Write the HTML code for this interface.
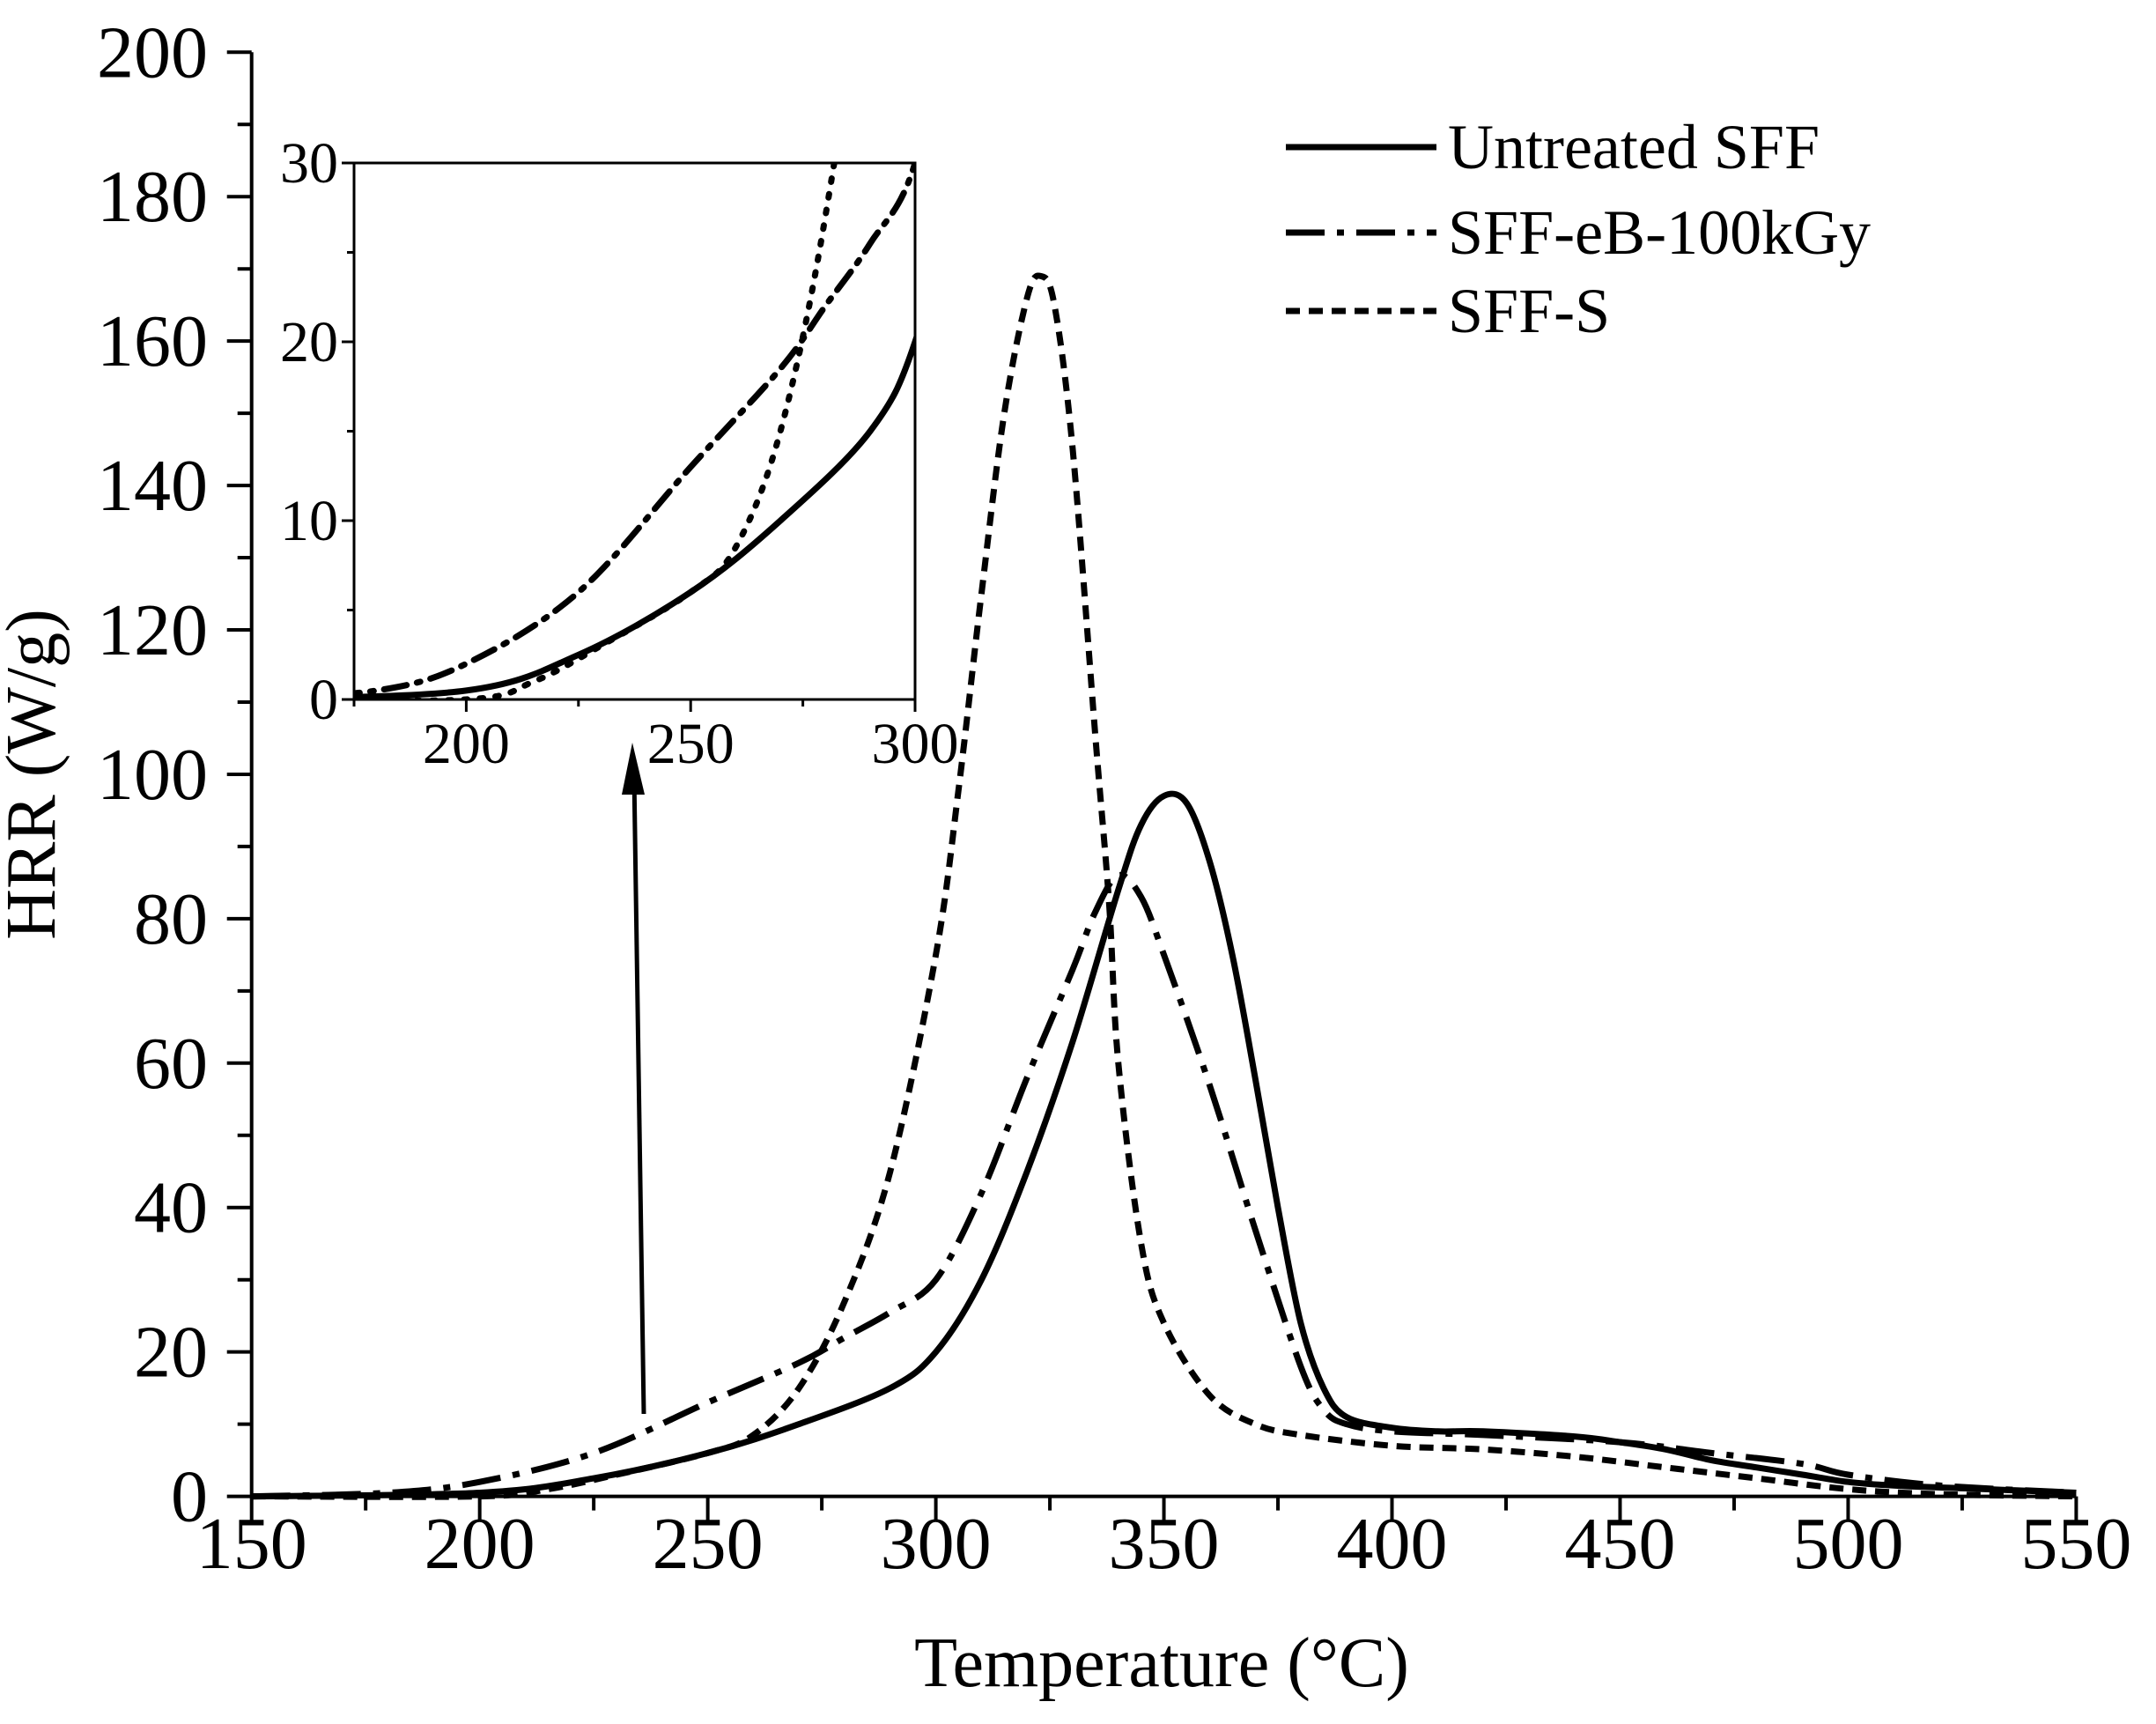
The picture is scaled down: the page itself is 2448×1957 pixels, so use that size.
<!DOCTYPE html>
<html><head><meta charset="utf-8"><style>
html,body{margin:0;padding:0;background:#fff}
svg{display:block}
text{font-family:"Liberation Serif",serif;fill:#000}
</style></head><body>
<svg id="c" width="2448" height="1957" viewBox="0 0 2448 1957">
<defs>
<clipPath id="insetClip"><rect x="402" y="185" width="637" height="609"/></clipPath>
</defs>
<g id="main"></g>
<g id="inset"></g>
<g id="legend"></g>
<text x="1319" y="1914" font-size="80" text-anchor="middle">Temperature (°C)</text>
<text x="0" y="0" font-size="80" text-anchor="middle" transform="translate(62,879) rotate(-90)">HRR (W/g)</text>
<line x1="731" y1="1605" x2="720" y2="880" stroke="#000" stroke-width="5"/>
<polygon points="718,843 706,902 732,902" fill="#000"/>
</svg>
<script>
const xTicks=[150,200,250,300,350,400,450,500,550];
const yTicks=[0,20,40,60,80,100,120,140,160,180,200];
const insetXTicks=[200,250,300];
const insetYTicks=[0,10,20,30];
const seriesNames=["Untreated SFF","SFF-eB-100kGy","SFF-S"];
const untreatedT=[150,200,225,250,270,290,300,310,320,330,340,345,350,355,360,365,370,375,380,385,390,400,410,420,440,450,460,470,480,490,500,510,530,550];
const untreatedV=[0,0.5,2.5,6,10,15,20,30,45,63,84,93,97,96,88,75,58,40,24,15,11,9.5,9,9,8.3,7.5,6.5,5,4,3,2,1.5,1,0.5];
const ebT=[150,180,200,225,250,270,280,290,300,310,320,330,335,340,345,350,360,370,380,385,390,400,420,450,470,490,500,520,550];
const ebV=[0,0.5,2,6,13,18.5,22,25.5,30,42,58,73,81,86,83,75,57,37,18,12,10,9,8.5,7.5,6,4.5,3,1.5,0.5];
const sT=[150,200,215,230,250,260,270,280,290,300,305,310,315,320,323,326,330,335,338,340,345,350,360,370,380,400,420,440,460,480,500,520,550];
const sV=[0,0,1,3,6,8.5,15,27,45,75,98,125,150,166,169,165,145,105,82,60,35,24,14,10,8.5,7,6.5,5.5,4,2.5,1,0.3,0];
const NS="http://www.w3.org/2000/svg";
function el(tag,attrs,parent){const e=document.createElementNS(NS,tag);for(const k in attrs)e.setAttribute(k,attrs[k]);parent.appendChild(e);return e;}
const X=v=>285.7+(v-150)*(2357.4-285.7)/400;
const Y=v=>1698.6-v*(1698.6-59.3)/200;
const IX=v=>402+(v-175)*(1039-402)/125;
const IY=v=>794-v*(794-185)/30;
const styles=[{d:"none",w:7},{d:"44,14,8,14",w:7},{d:"16,10",w:7}];
const datasets=[[untreatedT,untreatedV],[ebT,ebV],[sT,sV]];
const main=document.getElementById('main');
const inset=document.getElementById('inset');
const legend=document.getElementById('legend');
let a=el('line',{x1:X(150),y1:Y(0),x2:X(550),y2:Y(0),stroke:'#000','stroke-width':4},main);


a=el('line',{x1:X(150),y1:Y(0)+2,x2:X(150),y2:Y(200),stroke:'#000','stroke-width':4},main);


for(let v=150;v<=550;v+=25){const maj=xTicks.includes(v);el('line',{x1:X(v),y1:Y(0),x2:X(v),y2:Y(0)+(maj?28:16),stroke:'#000','stroke-width':4},main);}
xTicks.forEach(v=>{const t=el('text',{x:X(v),y:1780,'font-size':84,'text-anchor':'middle'},main);t.textContent=v;

});
for(let v=0;v<=200;v+=10){const maj=v%20===0;el('line',{x1:X(150),y1:Y(v),x2:X(150)-(maj?28:16),y2:Y(v),stroke:'#000','stroke-width':4},main);}
yTicks.forEach(v=>{const t=el('text',{x:236,y:Y(v)+28,'font-size':84,'text-anchor':'end'},main);t.textContent=v;

});
function pathD(T,V,fx,fy){
  const P=T.map((t,i)=>[fx(t),fy(V[i])]);
  let d='M'+P[0][0].toFixed(1)+','+P[0][1].toFixed(1);
  for(let i=0;i<P.length-1;i++){
    const p0=P[Math.max(0,i-1)],p1=P[i],p2=P[i+1],p3=P[Math.min(P.length-1,i+2)];
    const c1=[p1[0]+(p2[0]-p0[0])/6,p1[1]+(p2[1]-p0[1])/6];
    const c2=[p2[0]-(p3[0]-p1[0])/6,p2[1]-(p3[1]-p1[1])/6];
    d+=' C'+c1[0].toFixed(1)+','+c1[1].toFixed(1)+' '+c2[0].toFixed(1)+','+c2[1].toFixed(1)+' '+p2[0].toFixed(1)+','+p2[1].toFixed(1);
  }
  return d;
}
datasets.forEach((ds,i)=>{const p=el('path',{d:pathD(ds[0],ds[1],X,Y),fill:'none',stroke:'#000','stroke-width':styles[i].w,'stroke-dasharray':styles[i].d,'stroke-linejoin':'round'},main);

});
let r=el('rect',{x:402,y:185,width:637,height:609,fill:'#fff',stroke:'#000','stroke-width':3},inset);


const ig=el('g',{'clip-path':'url(#insetClip)'},inset);
datasets.forEach((ds,i)=>{const p=el('path',{d:pathD(ds[0],ds[1],IX,IY),fill:'none',stroke:'#000','stroke-width':7,'stroke-dasharray':i===0?'none':(i===1?'26,12,4,12':'4,14'),'stroke-linecap':'round'},ig);

});
for(let v=175;v<=300;v+=25){el('line',{x1:IX(v),y1:794,x2:IX(v),y2:794+(insetXTicks.includes(v)?14:8),stroke:'#000','stroke-width':3},inset);}
insetXTicks.forEach(v=>{const t=el('text',{x:IX(v),y:866,'font-size':66,'text-anchor':'middle'},inset);t.textContent=v;

});
for(let v=0;v<=30;v+=5){el('line',{x1:402,y1:IY(v),x2:402-(v%10===0?14:8),y2:IY(v),stroke:'#000','stroke-width':3},inset);}
insetYTicks.forEach(v=>{const t=el('text',{x:384,y:IY(v)+22,'font-size':66,'text-anchor':'end'},inset);t.textContent=v;

});
const ly=[167,264,353];
seriesNames.forEach((n,i)=>{const l=el('line',{x1:1460,y1:ly[i],x2:1631,y2:ly[i],stroke:'#000','stroke-width':7,'stroke-dasharray':styles[i].d},legend);


const t=el('text',{x:1644,y:ly[i]+24,'font-size':72},legend);t.textContent=n;

});
</script>
</body></html>
